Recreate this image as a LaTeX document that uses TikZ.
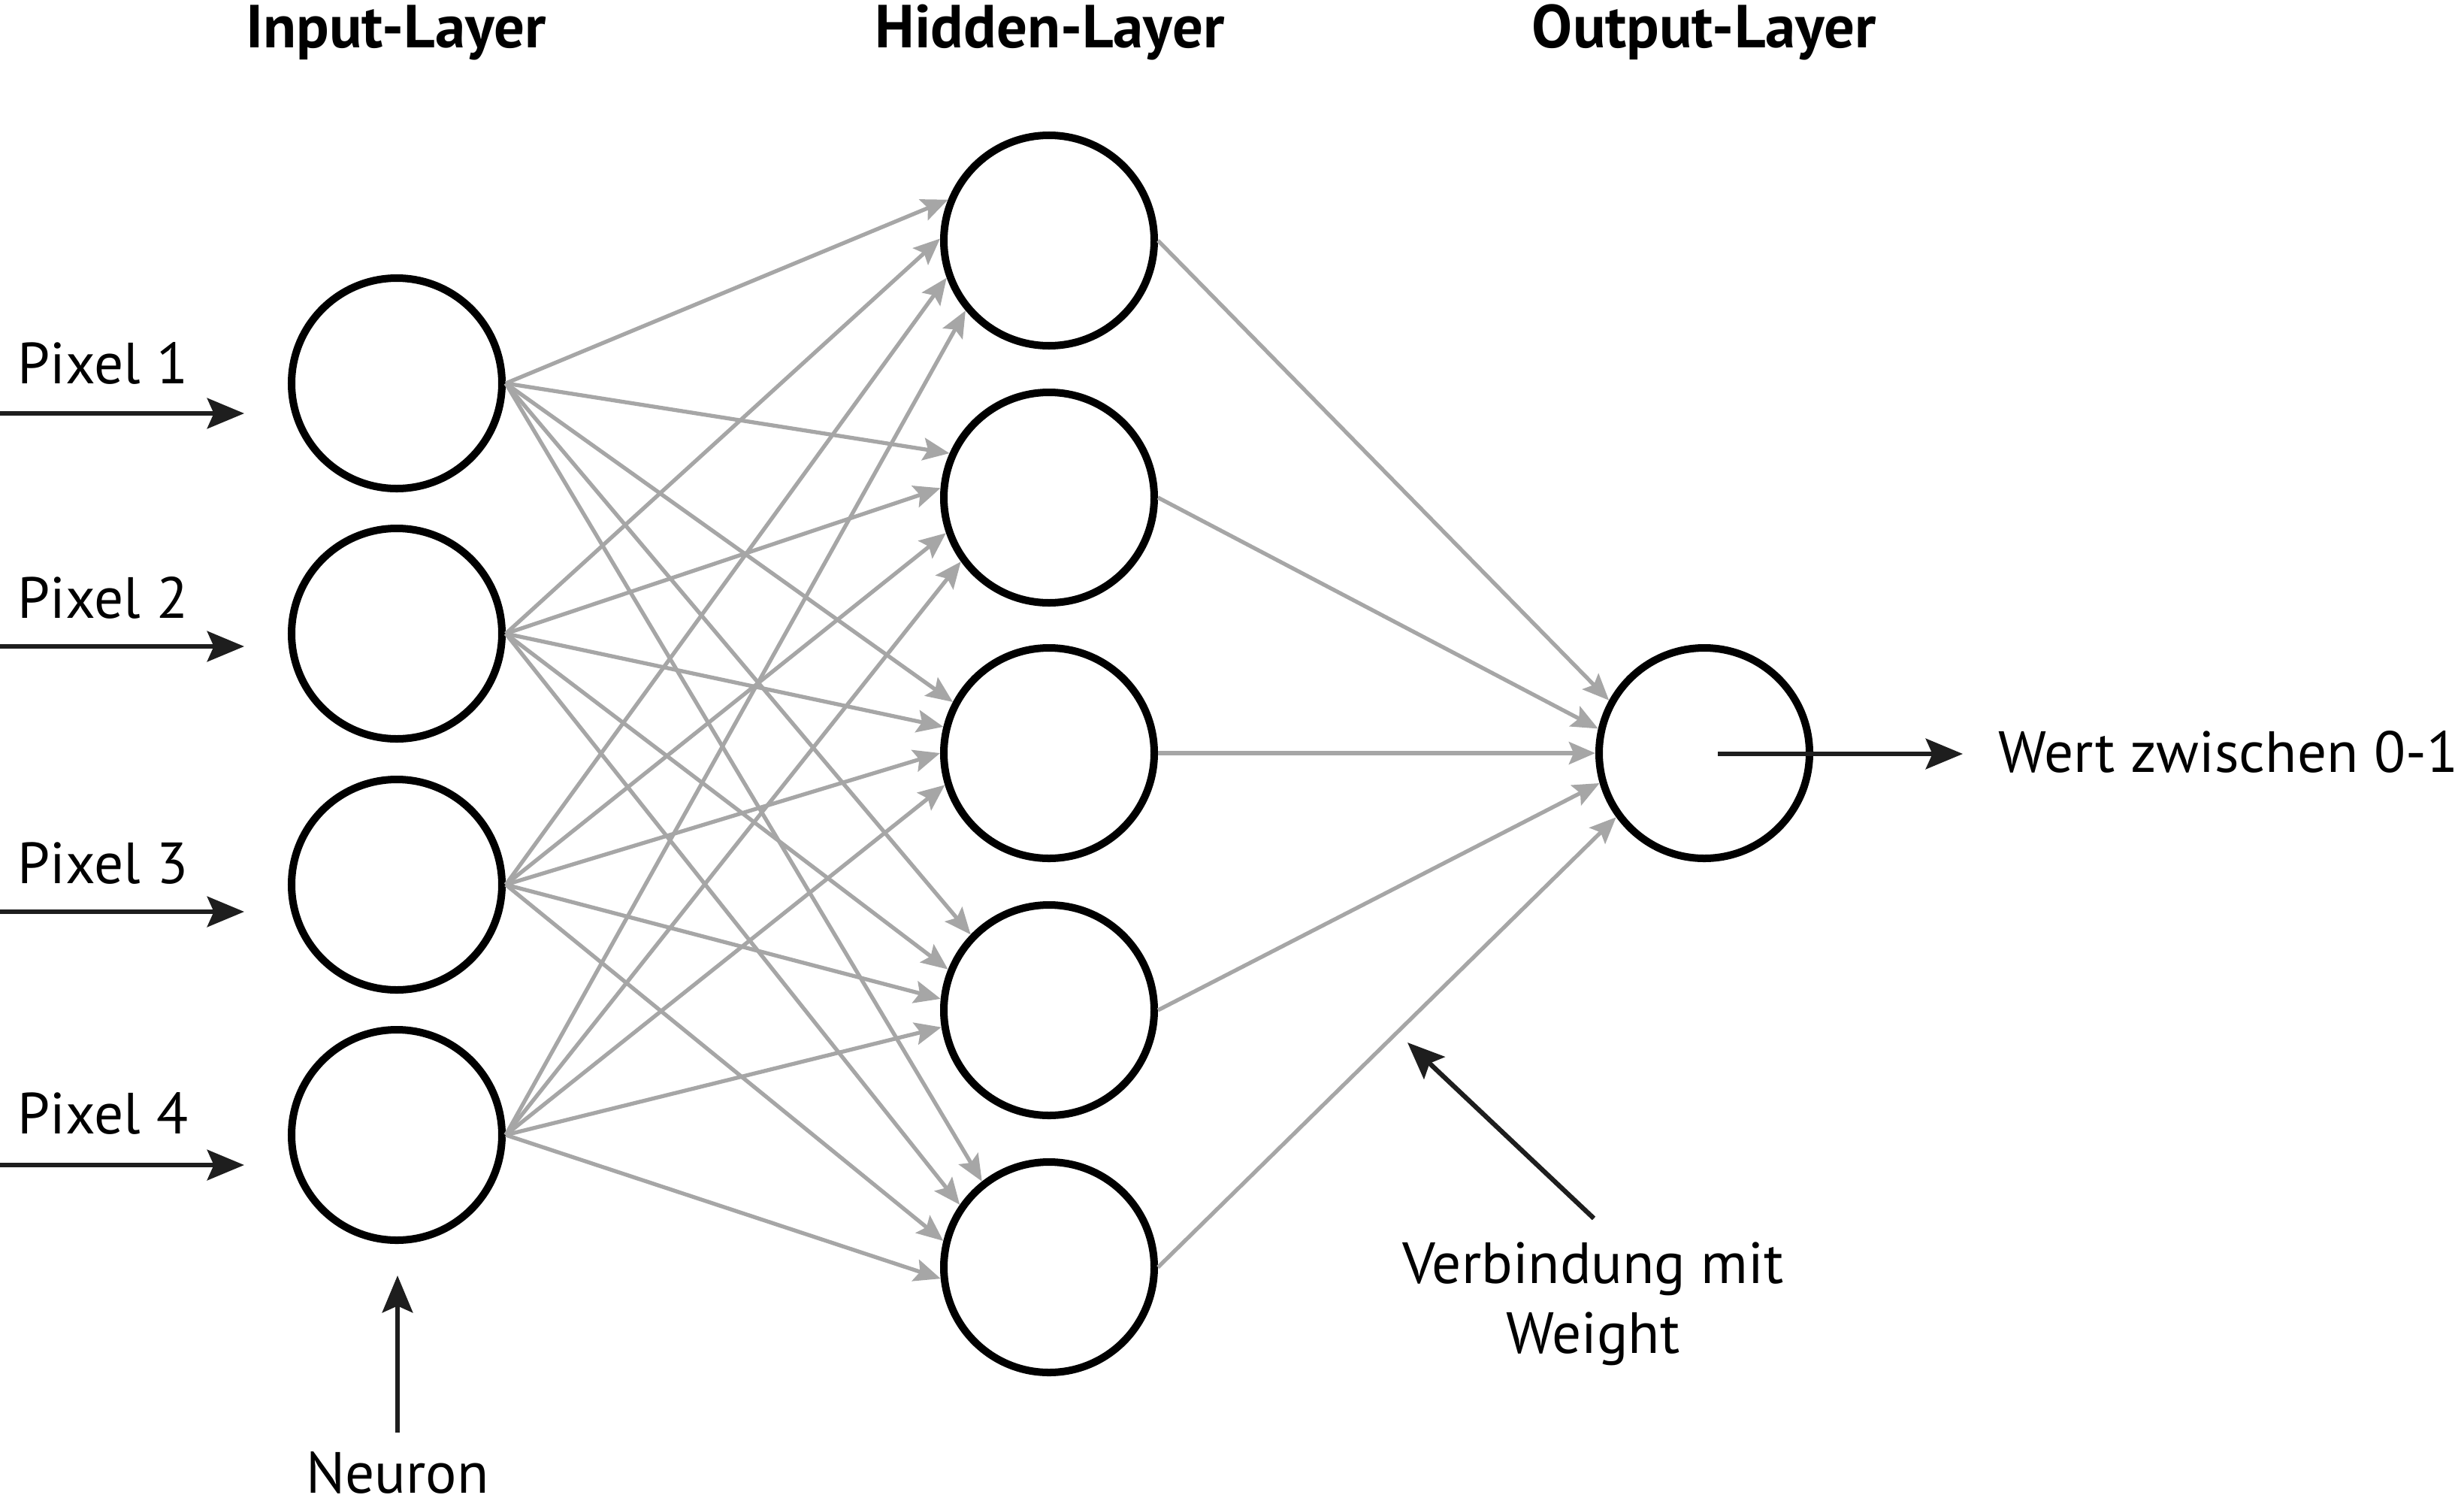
\documentclass[tikz,border=0pt]{standalone}
\usepackage{fontspec}
\setmainfont{PT Sans}
\usetikzlibrary{arrows.meta}
\definecolor{edgegray}{HTML}{A6A6A6}
\definecolor{arrowblack}{HTML}{1E1E1E}
\begin{document}
\begin{tikzpicture}[x=1cm,y=1cm,
  neuron/.style={circle, draw=black, line width=2.85pt, minimum size=2.8cm, inner sep=0pt, fill=white},
  conn/.style={draw=edgegray, line width=1.5pt, -{Stealth[length=10pt,width=8.5pt,inset=1.8pt]}},
  pointer/.style={draw=arrowblack, line width=1.8pt, -{Stealth[length=14pt,width=11.5pt,inset=2.5pt]}},
  txt/.style={font=\fontsize{22}{26.2}\selectfont, inner sep=0pt, anchor=base},
  head/.style={font=\fontsize{23}{27}\selectfont\bfseries, inner sep=0pt, anchor=base}]
\useasboundingbox (0,0) rectangle (32.79,-20);

% headers
\node[head] (hin)  at (5.27,-0.63)  {Input-Layer};
\node[head] (hhid) at (13.97,-0.63) {Hidden-Layer};
\node[head] (hout) at (22.68,-0.63) {Output-Layer};

% neurons
\node[neuron] (i1) at (5.28,-5.10) {};
\node[neuron] (i2) at (5.28,-8.43) {};
\node[neuron] (i3) at (5.28,-11.77) {};
\node[neuron] (i4) at (5.28,-15.10) {};

\node[neuron] (h1) at (13.96,-3.20) {};
\node[neuron] (h2) at (13.96,-6.62) {};
\node[neuron] (h3) at (13.96,-10.02) {};
\node[neuron] (h4) at (13.96,-13.44) {};
\node[neuron] (h5) at (13.96,-16.86) {};

\node[neuron] (o) at (22.68,-10.02) {};

% connections input -> hidden
\foreach \j/\a/\b/\c/\d in {1/158/179/200/220, 2/156/175/199/216, 3/152/166/180/197, 4/136/158/174/189, 5/128/145/166/186} {
  \draw[conn] (i1.east) -- (h\j.\a);
  \draw[conn] (i2.east) -- (h\j.\b);
  \draw[conn] (i3.east) -- (h\j.\c);
  \draw[conn] (i4.east) -- (h\j.\d);
}
% connections hidden -> output
\foreach \j/\a in {1/151, 2/167, 3/180, 4/196, 5/216} {
  \draw[conn] (h\j.east) -- (o.\a);
}

% pixel labels and input arrows
\node[txt] (p1) at (1.37,-5.10)  {Pixel 1};
\node[txt] (p2) at (1.37,-8.22)  {Pixel 2};
\node[txt] (p3) at (1.37,-11.75) {Pixel 3};
\node[txt] (p4) at (1.37,-15.08) {Pixel 4};

\coordinate (a1s) at (0,-5.50);   \coordinate (a1e) at (3.25,-5.50);
\coordinate (a2s) at (0,-8.60);   \coordinate (a2e) at (3.25,-8.60);
\coordinate (a3s) at (0,-12.13);  \coordinate (a3e) at (3.25,-12.13);
\coordinate (a4s) at (0,-15.50);  \coordinate (a4e) at (3.25,-15.50);
\draw[pointer] (a1s) -- (a1e);
\draw[pointer] (a2s) -- (a2e);
\draw[pointer] (a3s) -- (a3e);
\draw[pointer] (a4s) -- (a4e);

% output arrow and label
\coordinate (ws) at (22.86,-10.03);
\coordinate (we) at (26.12,-10.03);
\draw[pointer] (ws) -- (we);
\node[txt, anchor=base west] (wert) at (26.59,-10.27) {Wert zwischen 0-1};

% weight annotation
\node[txt, align=center] (verb) at (21.20,-18.00) {Verbindung mit\\Weight};
\coordinate (vs) at (21.21,-16.21);
\coordinate (ve) at (18.73,-13.87);
\draw[pointer] (vs) -- (ve);

% neuron annotation
\node[txt] (neur) at (5.29,-19.86) {Neuron};
\coordinate (ns) at (5.29,-19.06);
\coordinate (ne) at (5.29,-16.97);
\draw[pointer] (ns) -- (ne);
\end{tikzpicture}
\end{document}
